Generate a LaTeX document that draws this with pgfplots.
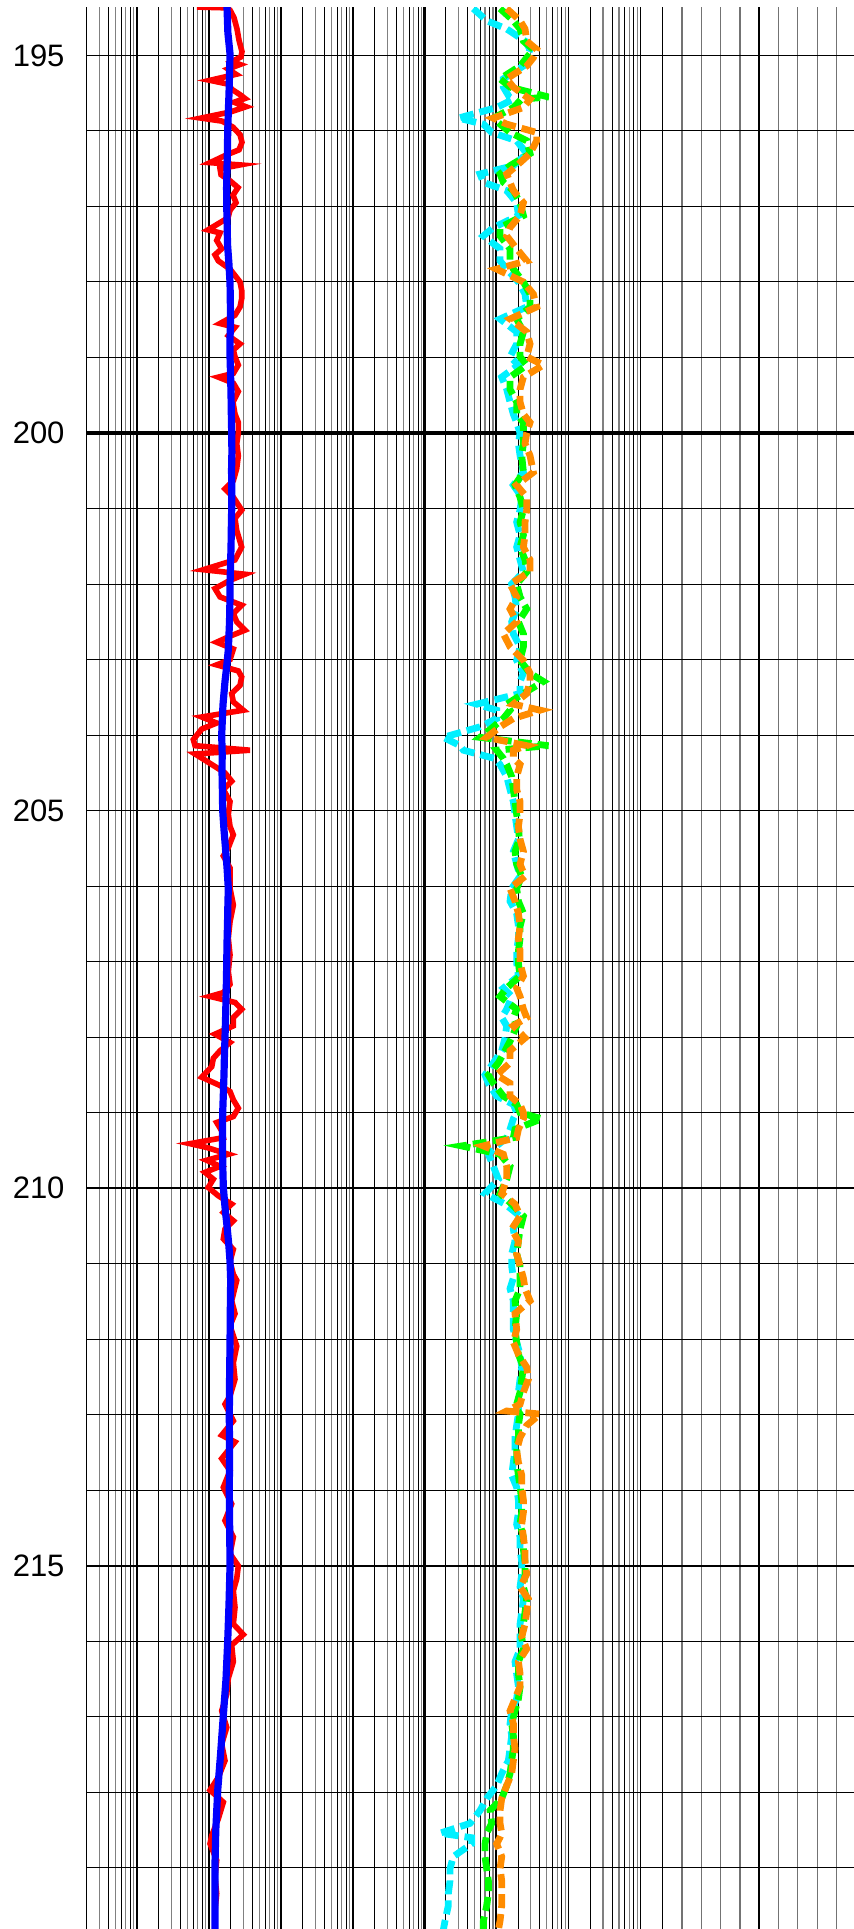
\documentclass[border=0pt]{standalone}
\usepackage{pgfplots}
\pgfplotsset{compat=1.18}
\usepackage{pgfplotstable}
\usepackage{fontspec}
\setmainfont{Liberation Sans}
\definecolor{cR}{RGB}{255,0,0}
\definecolor{cB}{RGB}{0,0,255}
\definecolor{cC}{RGB}{0,240,255}
\definecolor{cG}{RGB}{0,255,0}
\definecolor{cO}{RGB}{255,140,0}

% log10 of track-1 readings (red, blue) and track-2 readings (cyan, green, orange) versus depth
\pgfplotstableread{
D L
194.36 0.833
194.37 1.236
194.40 1.292
194.50 1.347
194.65 1.389
194.80 1.417
194.95 1.458
195.02 1.444
195.08 1.319
195.12 1.431
195.18 1.264
195.25 1.375
195.33 1.014
195.38 1.264
195.45 1.319
195.52 1.431
195.57 1.500
195.62 1.347
195.68 1.514
195.75 1.292
195.83 0.889
195.87 1.181
195.95 1.333
196.05 1.431
196.15 1.458
196.25 1.417
196.32 1.236
196.42 1.014
196.45 1.431
196.50 1.153
196.58 1.167
196.66 1.292
196.75 1.403
196.85 1.333
196.95 1.375
197.05 1.292
197.15 1.264
197.31 0.986
197.35 1.153
197.45 1.107
197.56 1.176
197.64 1.083
197.72 1.129
197.83 1.292
198.00 1.431
198.11 1.454
198.22 1.454
198.33 1.431
198.44 1.361
198.55 1.153
198.60 1.361
198.71 1.268
198.82 1.431
198.90 1.338
198.99 1.361
199.10 1.407
199.21 1.338
199.26 1.129
199.34 1.338
199.45 1.407
199.59 1.333
199.75 1.361
199.86 1.407
200.00 1.407
200.14 1.385
200.30 1.407
200.47 1.385
200.63 1.338
200.74 1.222
200.85 1.338
201.02 1.454
201.13 1.361
201.29 1.385
201.51 1.454
201.68 1.361
201.81 0.921
201.87 1.500
201.95 1.292
202.06 1.083
202.17 1.153
202.28 1.454
202.39 1.338
202.50 1.385
202.61 1.500
202.69 1.292
202.77 1.107
202.86 1.338
203.00 1.292
203.07 1.107
203.15 1.407
203.23 1.454
203.34 1.431
203.45 1.315
203.56 1.338
203.67 1.476
203.76 0.899
203.84 1.107
203.92 0.899
204.06 0.782
204.14 0.806
204.20 1.569
204.25 0.806
204.36 0.990
204.50 1.222
204.61 1.315
204.72 1.199
204.88 1.292
205.05 1.268
205.21 1.292
205.32 1.338
205.49 1.268
205.60 1.199
205.76 1.292
206.03 1.292
206.25 1.338
206.47 1.292
206.69 1.268
206.91 1.292
207.13 1.268
207.30 1.292
207.41 1.199
207.46 1.014
207.54 1.361
207.63 1.454
207.74 1.338
207.85 1.338
207.96 1.083
208.07 1.292
208.18 1.153
208.28 1.060
208.39 1.038
208.53 0.899
208.64 1.153
208.72 1.292
208.83 1.338
208.94 1.407
209.05 1.338
209.13 1.107
209.24 1.176
209.33 1.199
209.41 0.736
209.46 0.968
209.55 1.268
209.63 0.968
209.71 1.153
209.79 0.944
209.88 1.060
209.99 0.990
210.10 1.129
210.21 1.315
210.32 1.199
210.43 1.338
210.54 1.222
210.67 1.199
210.81 1.338
210.97 1.292
211.14 1.338
211.22 1.385
211.49 1.315
211.66 1.361
211.82 1.292
212.09 1.385
212.31 1.338
212.53 1.361
212.75 1.292
212.86 1.222
213.08 1.338
213.27 1.176
213.36 1.361
213.58 1.176
213.74 1.292
213.96 1.199
214.18 1.315
214.40 1.222
214.62 1.338
214.84 1.292
215.00 1.407
215.17 1.385
215.33 1.338
215.55 1.361
215.77 1.338
215.91 1.476
216.05 1.315
216.27 1.338
216.49 1.268
216.70 1.246
216.92 1.176
217.14 1.246
217.36 1.176
217.58 1.222
217.80 1.129
217.97 1.014
218.13 1.199
218.35 1.129
218.57 1.038
218.68 1.014
218.90 1.107
219.12 1.083
219.34 1.107
219.56 1.083
219.82 1.083
}\redtab

\pgfplotstableread{
D L
194.36 1.250
194.70 1.262
194.98 1.292
195.25 1.285
195.50 1.278
195.75 1.268
195.99 1.260
196.25 1.256
196.50 1.250
196.75 1.244
197.00 1.246
197.25 1.252
197.50 1.257
197.75 1.276
198.01 1.292
198.25 1.296
198.50 1.299
198.75 1.292
198.99 1.292
199.25 1.300
199.50 1.306
199.75 1.310
200.00 1.315
200.25 1.318
200.50 1.313
200.75 1.317
201.00 1.315
201.25 1.310
201.50 1.306
201.75 1.299
202.00 1.292
202.25 1.290
202.50 1.285
202.87 1.268
203.10 1.245
203.29 1.222
203.60 1.194
204.00 1.176
204.25 1.183
204.50 1.181
204.75 1.186
205.00 1.190
205.25 1.208
205.50 1.229
205.75 1.250
206.03 1.268
206.25 1.262
206.50 1.257
206.75 1.250
207.02 1.246
207.25 1.242
207.50 1.236
207.75 1.230
208.01 1.222
208.25 1.214
208.50 1.208
208.75 1.199
209.00 1.190
209.25 1.186
209.50 1.188
209.75 1.192
209.99 1.199
210.25 1.222
210.50 1.250
210.75 1.275
210.97 1.292
211.22 1.301
211.60 1.296
212.04 1.292
212.50 1.286
213.03 1.282
213.50 1.285
214.02 1.282
214.50 1.287
215.00 1.292
215.50 1.278
215.99 1.260
216.50 1.236
216.98 1.199
217.50 1.160
217.97 1.121
218.50 1.094
218.95 1.083
219.82 1.083
}\bluetab

\pgfplotstableread{
D C G O
194.38 0.683 1.053 1.145
194.54 0.868 1.237 1.330
194.65 1.145 1.330 1.399
194.81 1.399 1.376 1.422
194.92 1.468 1.514 1.560
195.03 1.422 1.422 1.514
195.14 1.376 1.330 1.422
195.31 1.099 1.053 1.145
195.42 1.099 1.191 1.237
195.55 1.180 1.722 1.420
195.58 1.237 1.350 1.468
195.69 1.006 1.237 1.376
195.83 0.476 0.960 0.960
195.91 0.822 1.053 1.145
196.02 0.937 1.191 1.560
196.13 1.283 1.422 1.560
196.30 1.422 1.468 1.468
196.46 1.237 1.191 1.283
196.57 0.776 1.053 1.145
196.68 0.822 1.099 1.191
196.79 1.145 1.237 1.237
196.95 1.283 1.330 1.376
197.12 1.307 1.376 1.330
197.28 0.960 1.053 1.191
197.39 0.822 1.053 1.145
197.56 1.053 1.191 1.283
197.72 1.053 1.191 1.422
197.83 1.145 1.237 1.006
198.00 1.307 1.376 1.376
198.16 1.399 1.468 1.514
198.33 1.422 1.468 1.560
198.49 1.053 1.283 1.191
198.66 1.283 1.376 1.422
198.82 1.283 1.330 1.468
198.99 1.191 1.330 1.422
199.10 1.307 1.422 1.653
199.26 1.076 1.191 1.376
199.42 1.145 1.191 1.330
199.59 1.191 1.283 1.330
199.75 1.237 1.283 1.376
199.86 1.283 1.376 1.468
200.00 1.330 1.376 1.422
200.14 1.307 1.376 1.399
200.30 1.330 1.353 1.468
200.52 1.376 1.376 1.514
200.69 1.237 1.260 1.283
200.85 1.353 1.330 1.422
201.02 1.330 1.376 1.422
201.18 1.283 1.330 1.399
201.35 1.330 1.376 1.399
201.51 1.283 1.330 1.376
201.68 1.330 1.399 1.468
201.84 1.376 1.422 1.468
202.00 1.214 1.283 1.191
202.17 1.260 1.330 1.283
202.33 1.283 1.422 1.191
202.50 1.214 1.307 1.283
202.66 1.237 1.376 1.099
202.83 1.330 1.376 1.191
203.01 1.283 1.330 1.376
203.18 1.376 1.468 1.468
203.29 1.330 1.653 1.468
203.45 1.330 1.376 1.422
203.59 0.729 1.145 1.237
203.67 1.006 1.191 1.607
203.78 1.006 1.099 1.237
203.89 0.776 0.960 1.053
204.03 0.268 0.776 0.868
204.14 0.499 1.722 1.422
204.20 0.545 1.006 1.237
204.31 0.983 1.099 1.237
204.39 1.053 1.145 1.330
204.55 1.145 1.214 1.283
204.72 1.191 1.237 1.283
204.88 1.237 1.260 1.330
205.05 1.260 1.283 1.330
205.21 1.283 1.307 1.307
205.38 1.307 1.320 1.330
205.54 1.237 1.260 1.376
205.71 1.283 1.283 1.330
205.87 1.330 1.353 1.399
206.03 1.214 1.283 1.191
206.20 1.191 1.307 1.260
206.36 1.283 1.376 1.307
206.53 1.307 1.330 1.330
206.69 1.307 1.330 1.307
206.86 1.283 1.307 1.330
207.02 1.283 1.307 1.330
207.19 1.307 1.330 1.376
207.35 1.099 1.145 1.283
207.46 1.214 1.053 1.330
207.63 1.145 1.283 1.376
207.74 1.076 1.237 1.422
207.85 1.145 1.283 1.237
208.01 1.122 1.214 1.399
208.18 1.076 1.122 1.191
208.34 0.960 1.030 1.191
208.50 0.845 0.891 1.006
208.61 0.891 0.960 1.191
208.78 1.006 1.099 1.191
208.89 1.237 1.283 1.330
209.00 1.283 1.330 1.376
209.08 1.237 1.630 1.376
209.22 1.191 1.260 1.307
209.33 1.145 1.237 1.283
209.44 1.006 0.522 0.822
209.55 0.891 1.053 1.099
209.71 0.960 1.191 1.145
209.88 1.030 1.145 1.145
210.07 0.845 1.053 1.076
210.21 1.122 1.214 1.260
210.37 1.330 1.376 1.330
210.54 1.237 1.330 1.214
210.70 1.260 1.307 1.307
210.87 1.214 1.283 1.283
211.03 1.214 1.330 1.330
211.19 1.237 1.330 1.376
211.33 1.191 1.330 1.399
211.49 1.237 1.260 1.468
211.66 1.237 1.283 1.260
211.87 1.237 1.260 1.283
212.04 1.283 1.283 1.237
212.20 1.330 1.307 1.307
212.37 1.353 1.376 1.422
212.53 1.330 1.353 1.445
212.70 1.307 1.330 1.376
212.86 1.307 1.283 1.330
212.95 1.307 1.300 1.145
212.99 1.307 1.330 1.607
213.14 1.283 1.307 1.422
213.30 1.260 1.307 1.330
213.47 1.260 1.283 1.283
213.63 1.237 1.283 1.307
213.80 1.214 1.307 1.353
213.96 1.283 1.330 1.353
214.13 1.307 1.353 1.376
214.29 1.307 1.353 1.376
214.45 1.283 1.330 1.353
214.62 1.330 1.376 1.376
214.78 1.330 1.376 1.399
214.95 1.353 1.399 1.399
215.11 1.353 1.399 1.422
215.28 1.330 1.376 1.330
215.44 1.376 1.422 1.445
215.61 1.353 1.399 1.422
215.77 1.330 1.376 1.399
215.94 1.330 1.353 1.353
216.10 1.330 1.376 1.422
216.27 1.260 1.307 1.307
216.43 1.283 1.307 1.330
216.60 1.307 1.330 1.330
216.76 1.283 1.307 1.260
216.92 1.214 1.260 1.191
217.09 1.191 1.214 1.237
217.25 1.214 1.237 1.237
217.42 1.191 1.237 1.260
217.58 1.168 1.214 1.237
217.75 1.076 1.191 1.214
217.91 1.006 1.145 1.145
218.08 0.868 1.076 1.076
218.24 0.776 0.914 1.053
218.41 0.637 0.937 1.053
218.54 0.222 0.868 1.076
218.60 0.660 0.860 1.050
218.68 0.660 0.845 1.006
218.85 0.406 0.845 1.076
219.01 0.360 0.868 1.053
219.17 0.360 0.891 1.076
219.34 0.337 0.891 1.076
219.50 0.337 0.868 1.076
219.70 0.291 0.822 1.053
219.82 0.268 0.822 1.030
}\trackBtab

\pgfplotsset{
  track/.style={scale only axis, height=961pt, anchor=south west,
    ymin=194.359, ymax=219.809, y dir=reverse,
    axis line style={draw=none}, tick style={draw=none},
    ytick=\empty, xticklabel={\relax}, clip=true},
  vgrid/.style={xmajorgrids, major grid style={#1}},
}

\begin{document}
\begin{tikzpicture}
\path[use as bounding box] (0,0) rectangle (427pt,964.5pt);

% ---- track 1 grid (log, 0.2 .. 10000)
\begin{axis}[track, vgrid={black!50, line width=0.6pt}, at={(43.35pt,0pt)}, width=169.15pt,
  xmode=log, xmin=0.2, xmax=10000,
  xtick={0.3,0.5,0.7,0.9,3,5,7,9,30,50,70,90,300,500,700,900,3000,5000,7000,9000}]
\end{axis}
\begin{axis}[track, vgrid={black, line width=0.4pt}, at={(43.35pt,0pt)}, width=169.15pt,
  xmode=log, xmin=0.2, xmax=10000,
  xtick={0.4,0.6,0.8,2,4,6,8,20,40,60,80,200,400,600,800,2000,4000,6000,8000}]
\end{axis}
\begin{axis}[track, vgrid={black, line width=0.75pt}, at={(43.35pt,0pt)}, width=169.15pt,
  xmode=log, xmin=0.2, xmax=10000,
  xtick={0.2,1,10,100,1000,10000}]
\end{axis}

% ---- track 2 grid (log, 1 .. 1000)
\begin{axis}[track, vgrid={black!50, line width=0.6pt}, at={(212pt,0pt)}, width=108.35pt,
  xmode=log, xmin=1, xmax=1000,
  xtick={3,5,7,9,30,50,70,90,300,500,700,900}]
\end{axis}
\begin{axis}[track, vgrid={black, line width=0.4pt}, at={(212pt,0pt)}, width=108.35pt,
  xmode=log, xmin=1, xmax=1000,
  xtick={2,4,6,8,20,40,60,80,200,400,600,800}]
\end{axis}
\begin{axis}[track, vgrid={black, line width=0.75pt}, at={(212pt,0pt)}, width=108.35pt,
  xmode=log, xmin=1, xmax=1000,
  xtick={1,10,100,1000}]
\end{axis}

% ---- track 3 grid (linear)
\begin{axis}[track, vgrid={black!55, line width=0.6pt}, at={(320.35pt,0pt)}, width=106.65pt,
  xmin=-1.14, xmax=9.91, xtick={1,2,3,4,6,7,8,9}]
\end{axis}
\begin{axis}[track, vgrid={black, line width=0.75pt}, at={(320.35pt,0pt)}, width=106.65pt,
  xmin=-1.14, xmax=9.91, xtick={0,5}]
\end{axis}

% ---- depth lines and labels
\begin{axis}[scale only axis, height=961pt, width=383.65pt, at={(43.35pt,0pt)}, anchor=south west,
  xmin=0, xmax=1, ymin=194.359, ymax=219.809, y dir=reverse,
  axis line style={draw=none}, tick style={draw=none}, xtick=\empty,
  ytick={195,200,205,210,215}, yticklabels={195,200,205,210,215},
  minor ytick={195,...,219},
  ymajorgrids, yminorgrids,
  major grid style={black, line width=0.85pt},
  minor grid style={black, line width=0.5pt},
  yticklabel style={font=\fontsize{15.5}{18}\selectfont, inner sep=0pt, xshift=-10.9pt}]
\end{axis}
\begin{axis}[scale only axis, height=961pt, width=383.65pt, at={(43.35pt,0pt)}, anchor=south west,
  xmin=0, xmax=1, ymin=194.359, ymax=219.809, y dir=reverse,
  axis line style={draw=none}, tick style={draw=none}, xtick=\empty,
  ytick={200}, yticklabel={\relax}, ymajorgrids,
  major grid style={black, line width=1.6pt}]
\end{axis}

% ---- track 1 curves
\begin{axis}[track, at={(43.35pt,0pt)}, width=169.15pt,
  xmode=log, xmin=0.2, xmax=10000, xtick=\empty]
\addplot[cR, line width=2.8pt, line join=miter, miter limit=8] table[x expr={10^(\thisrow{L})}, y=D] {\redtab};
\addplot[cB, line width=3.6pt, line join=round] table[x expr={10^(\thisrow{L})}, y=D] {\bluetab};
\end{axis}

% ---- track 2 curves
\begin{axis}[track, at={(212pt,0pt)}, width=108.35pt,
  xmode=log, xmin=1, xmax=1000, xtick=\empty]
\addplot[cC, line width=3.4pt, dash pattern=on 7pt off 3pt, line join=miter, miter limit=6] table[x expr={10^(\thisrow{C})}, y=D] {\trackBtab};
\addplot[cG, line width=3.4pt, dash pattern=on 7pt off 3pt, line join=miter, miter limit=6] table[x expr={10^(\thisrow{G})}, y=D] {\trackBtab};
\addplot[cO, line width=3.4pt, dash pattern=on 7pt off 3pt, line join=miter, miter limit=6] table[x expr={10^(\thisrow{O})}, y=D] {\trackBtab};
\end{axis}
\end{tikzpicture}
\end{document}
